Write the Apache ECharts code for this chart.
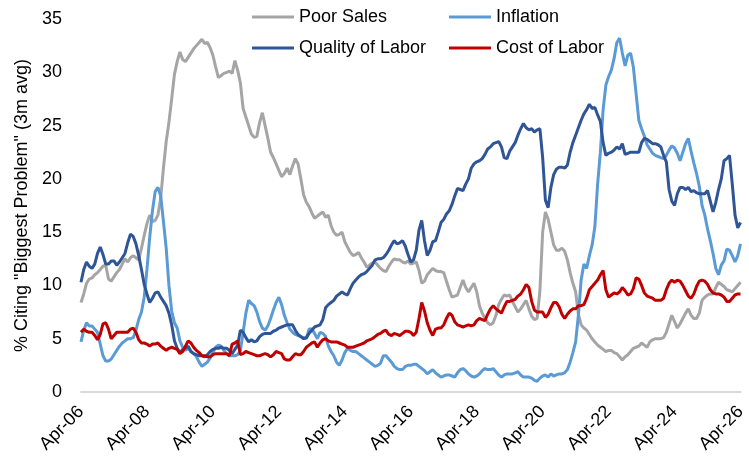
<!DOCTYPE html>
<html lang="en">
<head>
    <meta charset="utf-8">
    <title>Biggest Problem</title>
    <script src="https://cdn.jsdelivr.net/npm/echarts@6.0.0/dist/echarts.min.js"></script>
    <style type="text/css">
        html, body {
            width: 100%;
            height: 100%;
            margin: 0px;
            padding: 0px;
            background: #fff;
        }

        #main {
            width: 749px;
            height: 461px;
        }
    </style>
</head>
<body>
<div id="main"></div>
<script>
    // monthly, Apr-06 .. Apr-26
    var startYear = 2006, startMonth = 3;
    var monthNames = ['Jan', 'Feb', 'Mar', 'Apr', 'May', 'Jun', 'Jul', 'Aug', 'Sep', 'Oct', 'Nov', 'Dec'];
    var tickLabels = ['Apr-06', 'Apr-08', 'Apr-10', 'Apr-12', 'Apr-14', 'Apr-16', 'Apr-18', 'Apr-20', 'Apr-22', 'Apr-24', 'Apr-26'];

    var poorSales = [
        8.4, 9.2, 10.2, 10.6, 10.7, 11.0, 11.2, 11.5, 11.8, 11.9, 10.6, 10.4,
        10.8, 11.2, 11.5, 12.0, 12.5, 12.2, 12.6, 12.8, 12.6, 12.4, 13.5, 14.7,
        15.8, 16.6, 16.0, 16.1, 16.6, 18.2, 21.0, 23.5, 25.3, 27.5, 29.8, 31.0,
        31.9, 31.2, 31.0, 31.4, 31.8, 32.2, 32.5, 32.8, 33.1, 32.7, 32.8, 32.3,
        31.6, 30.5, 29.5, 29.7, 29.9, 30.0, 30.1, 29.9, 31.1, 30.2, 29.0, 26.6,
        25.8, 25.0, 24.2, 23.9, 24.0, 25.3, 26.2, 25.0, 23.8, 22.5, 22.0, 21.4,
        20.8, 20.2, 20.5, 21.0, 20.4, 21.2, 21.9, 21.4, 20.0, 18.5, 17.8, 17.4,
        16.8, 16.3, 16.5, 16.7, 16.9, 16.4, 16.6, 15.6, 15.0, 14.7, 14.8, 15.0,
        14.1, 13.6, 13.1, 12.8, 12.9, 13.1, 12.6, 12.2, 11.7, 11.9, 12.1, 12.2,
        11.9, 11.6, 11.4, 11.3, 11.8, 12.2, 12.5, 12.4, 12.4, 12.2, 12.1, 12.3,
        12.0, 12.1, 12.2, 11.4, 10.2, 10.4, 11.0, 11.3, 11.6, 11.4, 11.3, 11.3,
        11.2, 10.4, 9.6, 8.9, 9.0, 9.1, 9.8, 10.5, 9.8, 9.4, 9.8, 10.2,
        9.4, 8.1, 7.4, 6.9, 6.5, 6.3, 6.5, 7.2, 8.2, 8.7, 9.1, 9.0,
        9.1, 8.5, 8.0, 7.5, 7.8, 8.2, 8.6, 7.8, 7.1, 6.8, 6.9, 9.5,
        15.0, 16.9, 16.2, 15.0, 13.8, 13.3, 13.3, 13.5, 13.2, 12.4, 11.2, 10.2,
        9.4, 7.3, 6.3, 6.0, 5.8, 5.4, 5.0, 4.7, 4.4, 4.2, 4.0, 3.8,
        3.9, 3.9, 3.7, 3.6, 3.3, 3.0, 3.3, 3.5, 3.8, 4.1, 4.2, 4.3,
        4.6, 4.4, 4.2, 4.7, 4.9, 5.0, 5.0, 5.0, 5.1, 5.6, 6.4, 7.2,
        6.6, 6.0, 6.4, 6.9, 7.4, 7.8, 7.2, 6.9, 6.9, 7.4, 8.6, 8.9,
        9.1, 9.2, 9.2, 9.8, 10.3, 10.1, 9.9, 9.6, 9.5, 9.4, 9.7, 10.0,
        10.3
    ];

    var inflation = [
        4.7, 5.8, 6.5, 6.2, 6.2, 5.9, 5.6, 4.5, 3.4, 2.9, 2.9, 3.1,
        3.5, 3.9, 4.3, 4.6, 4.8, 5.0, 5.0, 5.1, 5.8, 6.8, 7.5, 8.9,
        11.5, 14.5, 17.0, 18.8, 19.2, 18.4, 16.0, 13.5, 10.0, 7.6, 6.5, 6.0,
        4.8, 4.2, 3.9, 4.1, 3.8, 3.6, 3.3, 2.8, 2.4, 2.6, 2.8, 3.2,
        3.7, 4.2, 4.4, 4.3, 3.9, 3.6, 3.4, 3.4, 3.4, 3.5, 3.9, 5.6,
        7.4, 8.6, 8.3, 8.1, 7.5, 6.6, 6.0, 5.8, 6.2, 6.9, 7.7, 8.4,
        8.9, 8.2, 7.2, 6.5, 5.9, 5.6, 5.4, 5.3, 5.2, 5.1, 5.0, 5.9,
        5.9, 5.5, 5.0, 5.6, 5.5, 5.2, 4.3, 3.8, 3.4, 2.8, 2.5, 3.0,
        3.7, 4.1, 3.9, 3.8, 3.8, 3.6, 3.4, 3.2, 3.0, 2.8, 2.6, 2.4,
        2.5, 2.7, 3.4, 3.4, 3.1, 2.8, 2.4, 2.2, 2.1, 2.1, 2.4, 2.5,
        2.5, 2.6, 2.6, 2.4, 2.2, 2.0, 1.7, 1.9, 2.1, 1.8, 1.6, 1.4,
        1.5, 1.6, 1.6, 1.5, 1.4, 1.8, 2.1, 2.2, 2.0, 1.7, 1.5, 1.4,
        1.5, 1.7, 2.0, 2.2, 2.1, 2.1, 2.2, 1.9, 1.6, 1.4, 1.6, 1.7,
        1.7, 1.7, 1.8, 1.9, 1.6, 1.4, 1.4, 1.4, 1.3, 1.1, 1.0, 1.3,
        1.5, 1.6, 1.4, 1.7, 1.5, 1.6, 1.7, 1.7, 1.8, 2.1, 2.8, 3.7,
        4.7, 7.2, 10.5, 12.0, 11.6, 12.8, 13.8, 15.5, 19.5, 22.5, 26.5, 28.8,
        29.6, 30.2, 31.3, 32.8, 33.2, 31.8, 30.6, 31.6, 31.8, 30.5, 28.0, 25.5,
        24.7, 24.0, 23.2, 22.8, 22.4, 22.2, 22.1, 22.0, 21.9, 22.2, 22.7, 23.1,
        22.9, 22.4, 21.7, 22.5, 23.3, 23.8, 22.6, 21.5, 20.5, 19.3, 17.5, 16.6,
        15.3, 14.2, 13.0, 11.6, 11.0, 11.9, 12.3, 13.4, 13.3, 12.8, 12.2, 12.8,
        13.9
    ];

    var qualityOfLabor = [
        10.3, 11.5, 12.2, 11.8, 11.6, 12.0, 13.0, 13.6, 12.9, 12.0, 12.0, 12.3,
        12.3, 11.9, 12.2, 12.6, 13.0, 14.0, 14.8, 14.6, 13.9, 12.8, 11.5, 10.1,
        9.2, 8.4, 8.8, 9.3, 9.4, 8.9, 8.5, 8.1, 7.4, 6.3, 4.8, 4.1,
        3.7, 4.0, 4.1, 4.3, 3.8, 3.6, 3.5, 3.4, 3.4, 3.3, 3.5, 3.8,
        4.0, 4.1, 4.1, 4.2, 4.1, 4.1, 3.9, 3.6, 4.0, 4.4, 5.8, 5.6,
        5.1, 4.7, 4.9, 4.7, 4.8, 5.2, 5.4, 5.5, 5.5, 5.5, 5.7, 5.8,
        6.0, 6.1, 6.2, 6.3, 6.3, 6.3, 5.8, 5.4, 5.2, 5.0, 5.1, 5.5,
        5.8, 6.1, 6.2, 6.3, 6.8, 7.9, 8.2, 8.4, 8.6, 9.0, 9.2, 9.4,
        9.2, 9.1, 9.7, 10.2, 10.5, 10.8, 11.0, 11.1, 11.3, 11.6, 11.9, 12.4,
        12.5, 12.5, 12.6, 12.9, 13.3, 13.8, 14.2, 13.9, 14.0, 14.2, 13.7, 12.9,
        12.2, 12.4, 13.3, 15.2, 16.1, 14.2, 12.8, 13.3, 14.1, 14.2, 15.0, 15.9,
        16.2, 16.7, 17.0, 17.6, 18.4, 19.1, 19.0, 18.9, 19.5, 20.0, 21.0, 21.4,
        21.6, 21.7, 21.9, 22.3, 22.8, 23.0, 23.3, 23.4, 23.5, 23.0, 22.0, 21.9,
        22.6, 23.0, 23.4, 24.1, 24.7, 25.2, 24.8, 24.6, 24.7, 24.4, 24.6, 24.7,
        22.0, 18.0, 17.3, 19.2, 20.4, 20.9, 21.1, 21.1, 21.0, 21.3, 22.5, 23.4,
        24.1, 24.8, 25.5, 26.1, 26.5, 27.0, 26.6, 26.7, 26.0, 25.4, 23.4, 22.2,
        22.4, 22.5, 22.7, 23.0, 22.8, 23.3, 22.3, 22.4, 22.5, 22.5, 22.5, 22.5,
        23.4, 23.8, 23.7, 23.5, 23.3, 23.3, 23.2, 23.0, 22.2, 21.6, 19.0, 17.9,
        17.5, 18.6, 19.2, 19.2, 19.0, 19.2, 18.8, 18.9, 18.7, 18.6, 18.6, 18.6,
        18.9, 17.9, 16.9, 17.8, 19.0, 20.0, 21.7, 21.9, 22.2, 19.5, 16.6, 15.4,
        15.9
    ];

    var costOfLabor = [
        5.6, 5.9, 5.7, 5.6, 5.6, 5.3, 4.9, 5.4, 6.4, 6.5, 5.9, 5.0,
        5.3, 5.6, 5.6, 5.6, 5.6, 5.6, 5.9, 6.0, 5.6, 4.9, 4.6, 4.6,
        4.5, 4.3, 4.5, 4.5, 4.6, 4.3, 4.1, 3.9, 4.1, 4.2, 4.1, 4.0,
        3.6, 3.8, 4.3, 4.8, 4.6, 4.2, 3.9, 3.7, 3.4, 3.4, 3.3, 3.3,
        3.5, 3.6, 3.6, 3.6, 3.6, 3.6, 3.4, 4.5, 4.6, 4.8, 3.5, 3.6,
        3.8, 3.7, 3.6, 3.5, 3.4, 3.4, 3.5, 3.6, 3.5, 3.3, 3.5, 3.8,
        3.7, 3.6, 3.1, 3.0, 3.0, 3.3, 3.6, 3.5, 3.5, 3.8, 4.2, 4.4,
        4.6, 4.7, 4.2, 4.6, 4.9, 5.0, 4.8, 4.7, 4.7, 4.7, 4.6, 4.5,
        4.4, 4.2, 4.2, 4.2, 4.3, 4.4, 4.5, 4.6, 4.8, 4.9, 5.0, 5.2,
        5.4, 5.5, 5.7, 5.8, 5.4, 5.3, 5.5, 5.4, 5.3, 5.5, 5.7, 5.7,
        5.6, 5.3, 5.6, 6.9, 8.4, 7.6, 6.5, 5.8, 5.3, 5.9, 6.0, 6.0,
        6.3, 6.9, 7.4, 7.2, 6.6, 6.3, 6.2, 6.1, 6.2, 6.3, 6.2, 6.3,
        6.7, 6.9, 6.8, 6.7, 7.3, 7.8, 8.1, 7.8, 7.6, 7.4, 8.0, 8.5,
        8.5, 8.6, 8.7, 9.0, 9.2, 9.6, 10.1, 9.8, 8.5, 7.7, 7.5, 7.5,
        7.5, 7.0, 7.3, 7.9, 8.4, 8.4, 8.0, 7.3, 6.9, 7.3, 7.6, 7.8,
        7.8, 8.1, 8.1, 8.2, 8.8, 9.6, 9.9, 10.2, 10.5, 11.0, 11.4, 9.6,
        8.9, 9.1, 9.3, 9.2, 9.4, 9.8, 9.5, 9.1, 9.2, 9.7, 10.7, 10.6,
        10.0, 9.3, 9.0, 8.9, 8.8, 8.6, 8.6, 8.6, 8.8, 9.6, 10.2, 10.5,
        10.3, 10.5, 10.4, 10.0, 9.5, 9.0, 8.8, 9.2, 9.9, 10.4, 10.5, 10.4,
        10.1, 9.6, 9.3, 9.2, 9.2, 9.1, 8.9, 8.5, 8.5, 8.8, 9.1, 9.2,
        9.2
    ];

    var seriesNames = ['Poor Sales', 'Inflation', 'Quality of Labor', 'Cost of Labor'];
    var seriesColors = ['#A5A5A5', '#5B9BD5', '#2F5597', '#C00000'];

    var months = [];
    for (var i = 0; i < poorSales.length; i++) {
        var m = (startMonth + i) % 12;
        var y = startYear + Math.floor((startMonth + i) / 12);
        months.push(monthNames[m] + '-' + String(y).slice(2));
    }

    var fontFamily = 'Liberation Sans, Arial, sans-serif';

    function legendAt(name, left, top) {
        return {
            data: [name],
            left: left,
            top: top,
            padding: 0,
            icon: 'rect',
            itemWidth: 42,
            itemHeight: 3,
            itemGap: 0,
            itemTextGap: 5,
            textStyle: {color: '#000', fontSize: 18, fontFamily: fontFamily, lineHeight: 20}
        };
    }

    function lineSeries(name, data, color) {
        return {
            name: name,
            type: 'line',
            data: data,
            symbol: 'none',
            smooth: false,
            lineStyle: {color: color, width: 3},
            itemStyle: {color: color},
            animation: false
        };
    }

    var myChart = echarts.init(document.getElementById('main'), null, {renderer: 'canvas'});
    myChart.setOption({
        backgroundColor: '#fff',
        animation: false,
        legend: [
            legendAt('Poor Sales', 252, 7),
            legendAt('Inflation', 449, 7),
            legendAt('Quality of Labor', 252, 38),
            legendAt('Cost of Labor', 449, 38)
        ],
        grid: {left: 81, right: 3, top: 19, bottom: 69},
        xAxis: {
            type: 'category',
            data: months,
            boundaryGap: false,
            axisLine: {show: true, lineStyle: {color: '#D9D9D9', width: 2}},
            axisTick: {show: false},
            axisLabel: {
                interval: function (index, value) {
                    return tickLabels.indexOf(value) >= 0;
                },
                rotate: 45,
                margin: 17,
                color: '#000',
                fontSize: 18,
                fontFamily: fontFamily
            },
            splitLine: {show: false}
        },
        yAxis: {
            type: 'value',
            min: 0,
            max: 35,
            interval: 5,
            name: '% Citing "Biggest Problem" (3m avg)',
            nameLocation: 'middle',
            nameGap: 45,
            nameTextStyle: {color: '#000', fontSize: 18, fontFamily: fontFamily},
            axisLine: {show: false},
            axisTick: {show: false},
            axisLabel: {color: '#000', fontSize: 18, fontFamily: fontFamily, margin: 19},
            splitLine: {show: false}
        },
        series: [
            lineSeries(seriesNames[0], poorSales, seriesColors[0]),
            lineSeries(seriesNames[1], inflation, seriesColors[1]),
            lineSeries(seriesNames[2], qualityOfLabor, seriesColors[2]),
            lineSeries(seriesNames[3], costOfLabor, seriesColors[3])
        ]
    });
</script>
</body>
</html>
